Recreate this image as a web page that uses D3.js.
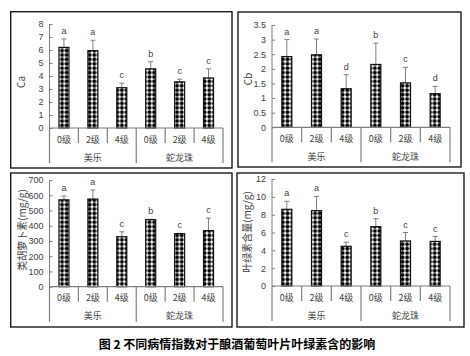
<!DOCTYPE html>
<html><head><meta charset="utf-8">
<script src="https://cdn.jsdelivr.net/npm/d3@7"></script>
<style>body{margin:0;background:#fff}svg{display:block}</style>
</head><body><svg id="c" width="470" height="356"></svg>
<script>
const categories = ["0级","2级","4级","0级","2级","4级"];
const groups = ["美乐","蛇龙珠"];
const caValues = [6.2, 5.95, 3.1, 4.55, 3.55, 3.85];
const caErrTop = [6.85, 6.75, 3.45, 5.1, 3.75, 4.55];
const caLetters = ["a","a","c","b","c","c"];
const caTicks = [0,1,2,3,4,5,6,7,8];
const cbValues = [2.42, 2.48, 1.32, 2.15, 1.52, 1.15];
const cbErrTop = [3.0, 3.02, 1.8, 2.88, 2.05, 1.4];
const cbLetters = ["a","a","d","b","c","d"];
const cbTicks = [0,0.5,1,1.5,2,2.5,3,3.5];
const carValues = [570, 575, 328, 440, 348, 368];
const carErrTop = [595, 635, 360, 442, 350, 450];
const carLetters = ["a","a","c","b","c","c"];
const carTicks = [0,100,200,300,400,500,600,700];
const chlValues = [8.6, 8.45, 4.45, 6.65, 5.05, 5.0];
const chlErrTop = [9.5, 10.05, 4.9, 7.55, 6.0, 5.55];
const chlLetters = ["a","a","c","b","c","c"];
const chlTicks = [0,2,4,6,8,10,12];
const yTitles = ["Ca","Cb","类胡萝卜素(mg/g)","叶绿素含量(mg/g)"];
const caption = "图 2  不同病情指数对于酿酒葡萄叶片叶绿素含的影响";

const svg = d3.select("#c");
const defs = svg.append("defs");
const pat = defs.append("pattern").attr("id","dots").attr("patternUnits","userSpaceOnUse")
  .attr("width",4.6).attr("height",4.4);
pat.append("rect").attr("width",4.6).attr("height",4.4).attr("fill","#fff");
pat.append("circle").attr("cx",2.3).attr("cy",2.2).attr("r",1.95).attr("fill","#000");

const panels = [
  {box:[10.7,11.7,232,168], x0:49.5, x1:223, y0:128, yt:24, vals:caValues, err:caErrTop, let:caLetters, ticks:caTicks, title:yTitles[0], tx:20, ty:82, fs:10},
  {box:[238,12,461,167], x0:272, x1:450, y0:127.3, yt:25, vals:cbValues, err:cbErrTop, let:cbLetters, ticks:cbTicks, title:yTitles[1], tx:247, ty:79, fs:10},
  {box:[10.7,173,232,327], x0:49.5, x1:223, y0:286.7, yt:180, vals:carValues, err:carErrTop, let:carLetters, ticks:carTicks, title:yTitles[2], tx:21, ty:230, fs:10},
  {box:[237,173,464,327], x0:272, x1:450, y0:286, yt:179, vals:chlValues, err:chlErrTop, let:chlLetters, ticks:chlTicks, title:yTitles[3], tx:246, ty:232, fs:10}
];

const grey = "#7f7f7f", txt = "#404040";
panels.forEach(p => {
  const g = svg.append("g");
  g.append("rect").attr("x",p.box[0]).attr("y",p.box[1]).attr("width",p.box[2]-p.box[0]).attr("height",p.box[3]-p.box[1])
    .attr("fill","none").attr("stroke","#1a1a1a").attr("stroke-width",1.4);
  const maxT = p.ticks[p.ticks.length-1];
  const y = d3.scaleLinear().domain([0,maxT]).range([p.y0,p.yt]);
  const x = d3.scaleBand().domain(d3.range(categories.length)).range([p.x0,p.x1]);
  const bw = 10;
  const ya = g.append("g").attr("transform",`translate(${p.x0},0)`)
    .call(d3.axisLeft(y).tickValues(p.ticks).tickSize(-3).tickPadding(6).tickFormat(d3.format("")));
  ya.select(".domain").attr("stroke",grey).attr("d",`M0,${p.yt}V${p.y0}`);
  ya.selectAll(".tick line").attr("stroke",grey);
  ya.selectAll("text").attr("fill",txt).attr("font-family","Liberation Sans, Arial, sans-serif").attr("font-size",9);
  categories.forEach((c,i) => {
    const cx = x(i) + x.bandwidth()/2;
    g.append("line").attr("x1",cx).attr("x2",cx).attr("y1",y(p.vals[i])).attr("y2",y(p.err[i])).attr("stroke",grey).attr("stroke-width",1);
    g.append("line").attr("x1",cx-2.5).attr("x2",cx+2.5).attr("y1",y(p.err[i])).attr("y2",y(p.err[i])).attr("stroke",grey).attr("stroke-width",1);
    g.append("rect").attr("x",cx-bw/2).attr("y",y(p.vals[i])).attr("width",bw).attr("height",p.y0-y(p.vals[i]))
      .attr("fill","url(#dots)").attr("stroke","#111").attr("stroke-width",1.2);
    g.append("text").attr("x",cx).attr("y",y(p.err[i])-5).attr("text-anchor","middle")
      .attr("font-family","Liberation Sans, Arial, sans-serif").attr("font-size",9).attr("fill",txt).text(p.let[i]);
    g.append("text").attr("x",cx).attr("y",p.y0+14.5).attr("text-anchor","middle")
      .attr("font-family","Noto Sans CJK SC, sans-serif").attr("font-size",9).attr("fill",txt).text(c);
  });
  g.append("line").attr("x1",p.x0).attr("x2",p.x1).attr("y1",p.y0).attr("y2",p.y0).attr("stroke",grey).attr("stroke-width",1.2);
  d3.range(categories.length+1).forEach(i => {
    const sx = i===categories.length ? p.x1 : x(i);
    const long = (i % 3 === 0);
    g.append("line").attr("x1",sx).attr("x2",sx).attr("y1",p.y0).attr("y2",p.y0 + (long?35:15))
      .attr("stroke",grey).attr("stroke-width",1.2);
  });
  groups.forEach((gr,j) => {
    const gx = (x(j*3) + x(j*3+2) + x.bandwidth())/2;
    g.append("text").attr("x",gx).attr("y",p.y0+32.5).attr("text-anchor","middle")
      .attr("font-family","Noto Sans CJK SC, sans-serif").attr("font-size",9).attr("fill",txt).text(gr);
  });
  g.append("text").attr("transform",`translate(${p.tx},${p.ty}) rotate(-90)`).attr("text-anchor","middle")
    .attr("dominant-baseline","central")
    .attr("font-family","Noto Sans CJK SC, Liberation Sans, sans-serif").attr("font-size",p.fs).attr("fill",txt).text(p.title);
});

svg.append("text").attr("x",237).attr("y",348.5).attr("text-anchor","middle")
  .attr("font-family","Noto Sans CJK SC, sans-serif").attr("font-weight","bold").attr("font-size",12).attr("fill","#000")
  .text(caption);
</script></body></html>
